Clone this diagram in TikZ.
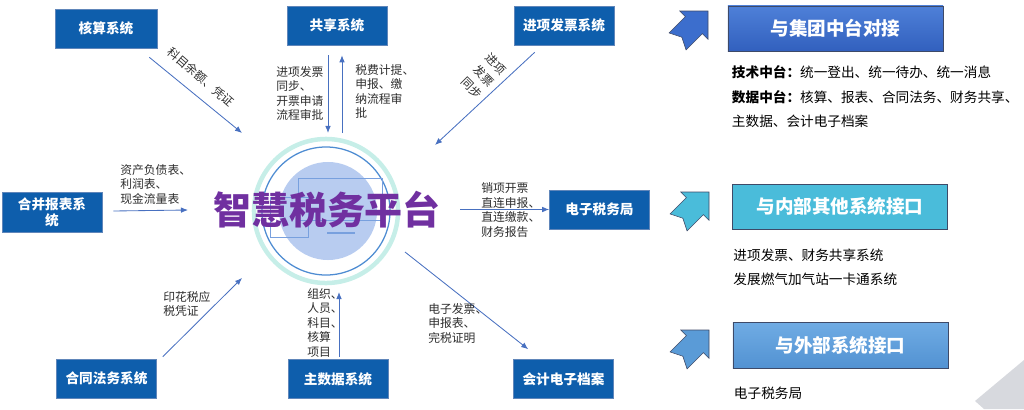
\documentclass[tikz,border=0pt]{standalone}
\usepackage{fontspec}
\setmainfont{Noto Sans CJK SC}
\usetikzlibrary{arrows.meta, positioning, calc}
\definecolor{sysblue}{RGB}{14,94,172}
\definecolor{sysedge}{RGB}{96,134,186}
\definecolor{flowblue}{RGB}{72,112,192}
\definecolor{labelgray}{RGB}{45,45,45}
\definecolor{titlepurple}{RGB}{112,48,160}
\definecolor{ringcyan}{RGB}{198,238,232}
\definecolor{ringblue}{RGB}{78,140,210}
\definecolor{discblue}{RGB}{184,204,240}
\definecolor{monitorblue}{RGB}{120,160,222}
\definecolor{headedge}{RGB}{62,74,104}
\definecolor{jituantop}{RGB}{78,128,216}
\definecolor{jituanbot}{RGB}{50,96,190}
\definecolor{jituanblue}{RGB}{60,110,205}
\definecolor{neibucyan}{RGB}{74,188,218}
\definecolor{waibutop}{RGB}{112,172,228}
\definecolor{waibubot}{RGB}{82,146,210}
\definecolor{waibublue}{RGB}{90,155,215}
\definecolor{cornergray}{RGB}{215,217,222}

\begin{document}
\begin{tikzpicture}[x=0.025cm, y=-0.025cm,
  sysbox/.style={rectangle, draw=sysedge, fill=sysblue, text=white, minimum width=2.5cm, minimum height=0.975cm, inner sep=0pt, font=\fontsize{9.7}{11.4}\selectfont\bfseries, align=center},
  headbox/.style={rectangle, draw=headedge, text=white, minimum width=5.375cm, minimum height=1.125cm, inner sep=0pt, font=\fontsize{13.2}{15}\selectfont\bfseries},
  lbl/.style={inner sep=0pt, text=labelgray, font=\fontsize{8.4}{10.3}\selectfont, align=left},
  note/.style={inner sep=0pt, text=black, font=\fontsize{9.7}{17.4}\selectfont, align=left},
  flow/.style={draw=flowblue, line width=0.6pt, -{Latex[length=5pt,width=4pt]}},
  monitor/.style={draw=monitorblue, line width=0.6pt},
  bentarrow/.style={draw=headedge, line width=0.4pt}
]
  \useasboundingbox (0,0) rectangle (1024,409);

  % Platform
  \node[circle, minimum size=3.65cm, inner sep=0pt] (platform) at (326,211) {};
  \draw[ringcyan, line width=3.2pt] (platform.center) circle[radius=1.8cm];
  \fill[discblue] (328,211) circle[radius=1.225cm];
  \draw[ringblue, line width=0.9pt] (platform.center) circle[radius=1.6cm];
  \draw[monitor] (298,178) rectangle (382,220);
  \draw[monitor] (270,197) rectangle (308,237);
  \draw[monitor, line width=1.5pt] (327,233) -- (355,233);
  \node[font=\fontsize{27}{30}\selectfont\bfseries, text=titlepurple] (title) at (327,210) {智慧税务平台};

  % Systems
  \node[sysbox, minimum width=2.55cm] (hesuan) at (106,28.5) {核算系统};
  \node[sysbox] (gongxiang) at (337,25.5) {共享系统};
  \node[sysbox] (jinxiang) at (564,25.5) {进项发票系统};
  \node[sysbox, minimum height=1cm] (hebing) at (52,212) {合并报表系\\统};
  \node[sysbox] (dianzi) at (599.5,209.5) {电子税务局};
  \node[sysbox] (hetong) at (106.5,378.5) {合同法务系统};
  \node[sysbox] (zhushuju) at (338,379) {主数据系统};
  \node[sysbox] (dangan) at (563.5,379) {会计电子档案};

  % Flows
  \draw[flow] ($(hesuan.south east)+(-8,9)$) -- ($(platform.center)+(-84,-78)$);
  \draw[flow] ($(gongxiang.south)+(-9,10)$) -- ($(platform.center)+(2,-78)$);
  \draw[flow] ($(platform.center)+(16,-78)$) -- ($(gongxiang.south)+(5,10)$);
  \draw[flow] ($(jinxiang.south west)+(21,7)$) -- ($(platform.center)+(109,-66)$);
  \draw[flow] ($(hebing.east)+(11,-1)$) -- ($(platform.center)+(-138,-1)$);
  \draw[flow] ($(platform.center)+(134,-1.5)$) -- (dianzi.west);
  \draw[flow] ($(hetong.north east)+(6,-2)$) -- ($(platform.center)+(-84,67)$);
  \draw[flow] ($(zhushuju.north)+(1,-2)$) -- ($(platform.center)+(13,81)$);
  \draw[flow] ($(platform.center)+(79,41)$) -- ($(dangan.north west)+(15,-10)$);

  % Flow labels
  \node[lbl, rotate=-41] (lb-hesuan) at (201,77) {科目余额、凭证};
  \node[lbl, anchor=north west] (lb-gx-in) at (276,66) {进项发票\\同步、\\开票申请\\流程审批};
  \node[lbl, anchor=north west] (lb-gx-out) at (355,64) {税费计提、\\申报、缴\\纳流程审\\批};
  \node[lbl, rotate=-45, align=center, font=\fontsize{8.4}{12}\selectfont] (lb-jinxiang) at (484,76) {进项\\发票\\同步};
  \node[lbl, anchor=north west] (lb-hebing) at (120,164) {资产负债表、\\利润表、\\现金流量表};
  \node[lbl, anchor=west] (lb-dianzi) at (481,210) {销项开票\\直连申报、\\直连缴款、\\财务报告};
  \node[lbl, anchor=north west] (lb-hetong) at (163,291) {印花税应\\税凭证};
  \node[lbl, anchor=north west] (lb-zhushuju) at (307,288) {组织、\\人员、\\科目、\\核算\\项目};
  \node[lbl, anchor=north west] (lb-dangan) at (428,303) {电子发票、\\申报表、\\完税证明};

  % Interfaces
  \filldraw[bentarrow, fill=jituanblue, shift={(708,11)}, rotate=45] (0,0) -- (-20,20) -- (-20,12) -- (-43,12) -- (-37,0) -- (-43,-12) -- (-20,-12) -- (-20,-20) -- cycle;
  \filldraw[bentarrow, fill=neibucyan, shift={(709,192)}, rotate=45] (0,0) -- (-20,20) -- (-20,12) -- (-43,12) -- (-37,0) -- (-43,-12) -- (-20,-12) -- (-20,-20) -- cycle;
  \filldraw[bentarrow, fill=waibublue, shift={(709,330)}, rotate=45] (0,0) -- (-20,20) -- (-20,12) -- (-43,12) -- (-37,0) -- (-43,-12) -- (-20,-12) -- (-20,-20) -- cycle;

  \node[headbox, top color=jituantop, bottom color=jituanbot] (jituan) at (835.5,28.5) {与集团中台对接};
  \node[headbox, fill=neibucyan] (neibu) at (840,206.5) {与内部其他系统接口};
  \node[headbox, top color=waibutop, bottom color=waibubot, minimum height=1.15cm] (waibu) at (840.5,345) {与外部系统接口};

  \node[note, below right=0.35cm and 0.1cm of jituan.south west] (jituan-note) {\textbf{技术中台：}统一登出、统一待办、统一消息\\\textbf{数据中台：}核算、报表、合同法务、财务共享、\\主数据、会计电子档案};
  \node[note, below right=0.475cm and 0.025cm of neibu.south west] (neibu-note) {进项发票、财务共享系统\\发展燃气加气站一卡通系统};
  \node[note, below right=0.45cm and 0.025cm of waibu.south west] (waibu-note) {电子税务局};

  \fill[cornergray] (975,401) -- (1024,360) -- (1024,409) -- (984,409) -- cycle;
\end{tikzpicture}
\end{document}
